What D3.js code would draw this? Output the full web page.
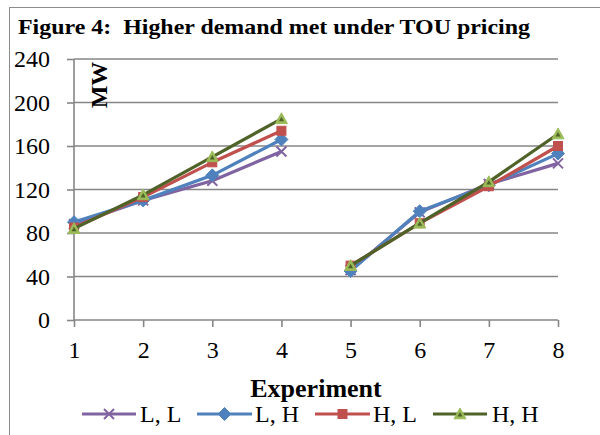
<!DOCTYPE html>
<html>
<head>
<meta charset="utf-8">
<script src="https://cdn.jsdelivr.net/npm/d3@7"></script>
<style>
  html, body { margin: 0; padding: 0; background: #fff; }
  svg { display: block; }
  text { font-family: "Times New Roman", "Liberation Serif", serif; fill: #000; }
</style>
</head>
<body>
<svg id="chart" width="600" height="435"></svg>
<script>
// Experiments and peak demand (MW) for each pricing combination
const experiments = [1, 2, 3, 4, 5, 6, 7, 8];
const seriesNames = ["L, L", "L, H", "H, L", "H, H"];
const valuesLL = [88, 110, 128, 155, 46, 99, 125, 144];
const valuesLH = [90, 110, 133, 166, 45, 100, 124, 153];
const valuesHL = [85, 113, 145, 174, 50, 89, 123, 160];
const valuesHH = [84, 115, 150, 185, 50, 89, 127, 171];
const yTicks = [0, 40, 80, 120, 160, 200, 240];
// the two blocks of experiments are drawn as separate line segments
const blocks = [[1, 2, 3, 4], [5, 6, 7, 8]];

const series = [
  { name: seriesNames[0], values: valuesLL, line: "#8064A2", marker: "x", fill: "#8064A2" },
  { name: seriesNames[1], values: valuesLH, line: "#4F81BD", marker: "diamond", fill: "#4F81BD" },
  { name: seriesNames[2], values: valuesHL, line: "#C0504D", marker: "square", fill: "#C0504D" },
  { name: seriesNames[3], values: valuesHH, line: "#4F6228", marker: "triangle", fill: "#9BBB59" }
];

const svg = d3.select("#chart");
const grid = "#868686";

// outer frame
svg.append("rect")
  .attr("x", 9.5).attr("y", 7.5)
  .attr("width", 620).attr("height", 460)
  .attr("fill", "none").attr("stroke", "#8c8c8c").attr("stroke-width", 1);

const x = d3.scaleLinear().domain([1, 8]).range([74, 558]);
const y = d3.scaleLinear().domain([0, 240]).range([320, 59]);

// title
svg.append("text")
  .attr("x", 18).attr("y", 34)
  .attr("font-size", 22).attr("font-weight", "bold")
  .attr("xml:space", "preserve")
  .attr("textLength", 512).attr("lengthAdjust", "spacingAndGlyphs")
  .text("Figure 4:  Higher demand met under TOU pricing");

// horizontal gridlines
svg.append("g").selectAll("line")
  .data(yTicks.filter(v => v > 0))
  .join("line")
  .attr("x1", 74).attr("x2", 558)
  .attr("y1", d => y(d)).attr("y2", d => y(d))
  .attr("stroke", grid).attr("stroke-width", 1.6);

// y axis
const yAxis = svg.append("g")
  .attr("transform", "translate(74,0)")
  .call(d3.axisLeft(y).tickValues(yTicks).tickSize(7).tickPadding(17));
yAxis.select(".domain").attr("stroke", grid).attr("stroke-width", 1.6)
  .attr("d", `M0,${y(240)}V${y(0)}`);
yAxis.selectAll(".tick line").attr("stroke", grid).attr("stroke-width", 1.6);
yAxis.selectAll(".tick text")
  .attr("font-family", "'Times New Roman', 'Liberation Serif', serif")
  .attr("font-size", 24).attr("fill", "#000");

// x axis
const xAxis = svg.append("g")
  .attr("transform", `translate(0,${y(0)})`)
  .call(d3.axisBottom(x).tickValues(experiments).tickFormat(d3.format("d")).tickSize(7).tickSizeOuter(0).tickPadding(14));
xAxis.select(".domain").attr("stroke", grid).attr("stroke-width", 1.6)
  .attr("d", `M${x(1)},0H${x(8)}`);
xAxis.selectAll(".tick line").attr("stroke", grid).attr("stroke-width", 1.6);
xAxis.selectAll(".tick text")
  .attr("font-family", "'Times New Roman', 'Liberation Serif', serif")
  .attr("font-size", 24).attr("fill", "#000");

// axis titles
svg.append("text")
  .attr("transform", "translate(107,85) rotate(-90)")
  .attr("text-anchor", "middle")
  .attr("font-size", 24).attr("font-weight", "bold")
  .text("MW");

svg.append("text")
  .attr("x", 316).attr("y", 397)
  .attr("text-anchor", "middle")
  .attr("font-size", 26).attr("font-weight", "bold")
  .text("Experiment");

// marker drawing
function drawMarker(g, s, cx, cy) {
  if (s.marker === "x") {
    const r = 5;
    g.append("path")
      .attr("d", `M${cx - r},${cy - r}L${cx + r},${cy + r}M${cx - r},${cy + r}L${cx + r},${cy - r}`)
      .attr("stroke", s.fill).attr("stroke-width", 2).attr("fill", "none");
  } else if (s.marker === "diamond") {
    const r = 6.5;
    g.append("path")
      .attr("d", `M${cx},${cy - r}L${cx + r},${cy}L${cx},${cy + r}L${cx - r},${cy}Z`)
      .attr("fill", s.fill).attr("stroke", s.fill).attr("stroke-width", 1);
  } else if (s.marker === "square") {
    const r = 4.5;
    g.append("rect")
      .attr("x", cx - r).attr("y", cy - r).attr("width", 2 * r).attr("height", 2 * r)
      .attr("fill", s.fill).attr("stroke", s.fill).attr("stroke-width", 1);
  } else if (s.marker === "triangle") {
    const r = 6;
    g.append("path")
      .attr("d", `M${cx},${cy - r}L${cx + r},${cy + r * 0.8}L${cx - r},${cy + r * 0.8}Z`)
      .attr("fill", s.fill).attr("stroke", "#9BBB59").attr("stroke-width", 1);
    g.append("path")
      .attr("d", `M${cx},${cy - 2}L${cx + 2.5},${cy + 2.5}L${cx - 2.5},${cy + 2.5}Z`)
      .attr("fill", s.line);
  }
}

const line = d3.line()
  .x(d => x(d.e))
  .y(d => y(d.v));

// series lines and markers
series.forEach(s => {
  const g = svg.append("g");
  blocks.forEach(b => {
    const pts = b.map(e => ({ e, v: s.values[experiments.indexOf(e)] }));
    g.append("path")
      .datum(pts)
      .attr("d", line)
      .attr("fill", "none")
      .attr("stroke", s.line)
      .attr("stroke-width", 3.2)
      .attr("stroke-linejoin", "round");
  });
  experiments.forEach((e, i) => drawMarker(g, s, x(e), y(s.values[i])));
});

// legend
const legendItems = [
  { x0: 82, x1: 136, tx: 140 },
  { x0: 197, x1: 252, tx: 255 },
  { x0: 315, x1: 370, tx: 373 },
  { x0: 433, x1: 487, tx: 492 }
];
const ly = 414;
series.forEach((s, i) => {
  const L = legendItems[i];
  const g = svg.append("g");
  g.append("line")
    .attr("x1", L.x0).attr("x2", L.x1).attr("y1", ly).attr("y2", ly)
    .attr("stroke", s.line).attr("stroke-width", 3.2);
  drawMarker(g, s, (L.x0 + L.x1) / 2, ly);
  g.append("text")
    .attr("x", L.tx).attr("y", ly + 8)
    .attr("font-size", 24)
    .text(s.name);
});
</script>
</body>
</html>
